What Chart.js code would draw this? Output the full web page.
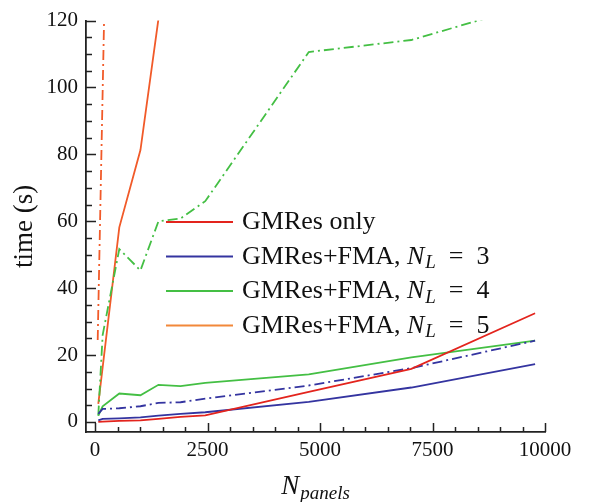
<!DOCTYPE html>
<html>
<head>
<meta charset="utf-8">
<script src="https://cdn.jsdelivr.net/npm/chart.js@4.4.1/dist/chart.umd.min.js"></script>
<style>
html, body { margin: 0; padding: 0; background: #fff; }
</style>
</head>
<body>
<canvas id="timing" width="591" height="502"></canvas>
<script>
// number of panels (x) and solve times in seconds (y)
const nPanels = [73, 170, 540, 1010, 1410, 1900, 2450, 4750, 7030, 9780];
const gmresOnly = [0, 0.1, 0.3, 0.5, 0.9, 1.5, 2.0, 9.0, 15.9, 32.5];
const fmaL3 = [0.45, 0.9, 1.1, 1.4, 1.9, 2.4, 2.9, 6.0, 10.3, 17.3];
const fmaL3dash = [2.4, 3.9, 4.1, 4.7, 5.7, 5.9, 7.0, 10.9, 16.1, 24.3];
const fmaL4 = [1.9, 4.7, 8.5, 8.0, 11.1, 10.7, 11.7, 14.2, 19.3, 24.3];
const fmaL4dash = [1.9, 26, 51.7, 45.3, 60.0, 60.8, 66.0, 110.6, 114.2, 125];
const fmaL5 = [5.4, 16.3, 58.2, 81.3, 120.5];
const fmaL5dashX = [60, 200];
const fmaL5dash = [24.5, 119];

const xTickValues = [0, 2500, 5000, 7500, 10000];
const yTickValues = [0, 20, 40, 60, 80, 100, 120];

const legendLabels = ['GMRes only', 'GMRes+FMA, N_L = 3', 'GMRes+FMA, N_L = 4', 'GMRes+FMA, N_L = 5'];

const RED = '#e3241d', BLUE = '#3434a0', GREEN = '#44bf44', ORANGE = '#f15a29';
const legendColors = [RED, BLUE, GREEN, '#f2883a'];
const SERIF = '"Liberation Serif", "DejaVu Serif", serif';
const DASHDOT = [10, 4, 2, 4];

function pts(xs, ys) {
	return ys.map((y, i) => ({x: xs[i], y: y}));
}

function series(label, xs, ys, color, dash) {
	return {
		label: label,
		data: pts(xs, ys),
		borderColor: color,
		backgroundColor: color,
		borderWidth: 1.8,
		borderDash: dash || [],
		pointRadius: 0,
		tension: 0,
		fill: false,
		clip: 0
	};
}

// inward minor/major tick marks like the original plot
const innerTicks = {
	id: 'innerTicks',
	afterDraw(chart) {
		const {ctx, chartArea, scales} = chart;
		ctx.save();
		ctx.strokeStyle = '#222';
		ctx.lineWidth = 1.5;
		ctx.beginPath();
		for (let v = 0; v <= 10000; v += 500) {
			const px = Math.round(scales.x.getPixelForValue(v)) + 0.5;
			const len = v % 2500 === 0 ? 9 : 5;
			ctx.moveTo(px, chartArea.bottom);
			ctx.lineTo(px, chartArea.bottom - len);
		}
		for (let v = 0; v <= 120; v += 5) {
			const py = Math.round(scales.y.getPixelForValue(v)) + 0.5;
			const len = v % 20 === 0 ? 10 : 6;
			ctx.moveTo(chartArea.left, py);
			ctx.lineTo(chartArea.left + len, py);
		}
		ctx.stroke();
		ctx.restore();
	}
};

// writes "text N_L more" with italic N and subscript L
function drawRich(ctx, text, x, y, size) {
	const m = text.match(/^(.*?)([A-Za-z])_([A-Za-z]+)(.*)$/);
	const parts = m
		? [{t: m[1]}, {t: m[2], it: true}, {t: m[3], it: true, sub: true}, {t: m[4]}]
		: [{t: text}];
	let cx = x;
	parts.forEach(p => {
		const fs = p.sub ? Math.round(size * 0.72) : size;
		ctx.font = (p.it ? 'italic ' : '') + fs + 'px ' + SERIF;
		ctx.fillText(p.t, cx, p.sub ? y + size * 0.18 : y);
		cx += ctx.measureText(p.t).width + (p.it && !p.sub ? 1 : 0);
	});
	return cx - x;
}

const innerLegend = {
	id: 'innerLegend',
	afterDraw(chart) {
		const ctx = chart.ctx;
		ctx.save();
		ctx.textBaseline = 'alphabetic';
		ctx.fillStyle = '#111';
		legendLabels.forEach((lab, i) => {
			const y = 222 + i * 34.5;
			ctx.strokeStyle = legendColors[i];
			ctx.lineWidth = 1.8;
			ctx.beginPath();
			ctx.moveTo(166, y);
			ctx.lineTo(233, y);
			ctx.stroke();
			drawRich(ctx, lab.replace(' = ', '  =  '), 242, y + 7, 26);
		});

		// x axis title N_panels
		const area = chart.chartArea;
		ctx.font = 'italic 27px ' + SERIF;
		const w1 = ctx.measureText('N').width + 1;
		ctx.font = 'italic 19px ' + SERIF;
		const w2 = ctx.measureText('panels').width;
		const cx = (area.left + area.right) / 2 - (w1 + w2) / 2;
		drawRich(ctx, 'N_panels', cx, 494, 27);
		ctx.restore();
	}
};

const ctx = document.getElementById('timing').getContext('2d');

const timing = new Chart(ctx, {
	type: 'line',
	data: {
		datasets: [
			series('GMRes only', nPanels, gmresOnly, RED),
			series('GMRes+FMA, N_L = 3', nPanels, fmaL3, BLUE),
			series('GMRes+FMA, N_L = 3 (dash)', nPanels, fmaL3dash, BLUE, DASHDOT),
			series('GMRes+FMA, N_L = 4', nPanels, fmaL4, GREEN),
			series('GMRes+FMA, N_L = 4 (dash)', nPanels, fmaL4dash, GREEN, DASHDOT),
			series('GMRes+FMA, N_L = 5', nPanels, fmaL5, ORANGE),
			series('GMRes+FMA, N_L = 5 (dash)', fmaL5dashX, fmaL5dash, ORANGE, DASHDOT)
		]
	},
	options: {
		responsive: false,
		animation: false,
		layout: { padding: { top: 15, right: 46, left: 0, bottom: 0 } },
		plugins: {
			legend: { display: false },
			tooltip: { enabled: false }
		},
		scales: {
			x: {
				type: 'linear',
				min: -200,
				max: 10000,
				afterBuildTicks: s => { s.ticks = xTickValues.map(v => ({value: v})); },
				afterFit: s => { s.height = 70; },
				grid: { display: true, drawOnChartArea: false, drawTicks: false },
				border: { display: true, color: '#222', width: 1.8 },
				ticks: {
					padding: 6,
					color: '#111',
					maxRotation: 0,
					autoSkip: false,
					font: { family: SERIF, size: 21 },
					callback: v => String(v)
				}
			},
			y: {
				type: 'linear',
				min: -3,
				max: 120,
				afterBuildTicks: s => { s.ticks = yTickValues.map(v => ({value: v})); },
				afterFit: s => { s.width = 86; },
				grid: { display: true, drawOnChartArea: false, drawTicks: false },
				border: { display: true, color: '#222', width: 1.8 },
				ticks: {
					padding: 8,
					color: '#111',
					autoSkip: false,
					font: { family: SERIF, size: 21 },
					callback: v => String(v)
				},
				title: {
					display: true,
					text: 'time (s)',
					color: '#111',
					font: { family: SERIF, size: 27 },
					padding: { top: 9, bottom: 0 }
				}
			}
		}
	},
	plugins: [innerTicks, innerLegend]
});
</script>
</body>
</html>
